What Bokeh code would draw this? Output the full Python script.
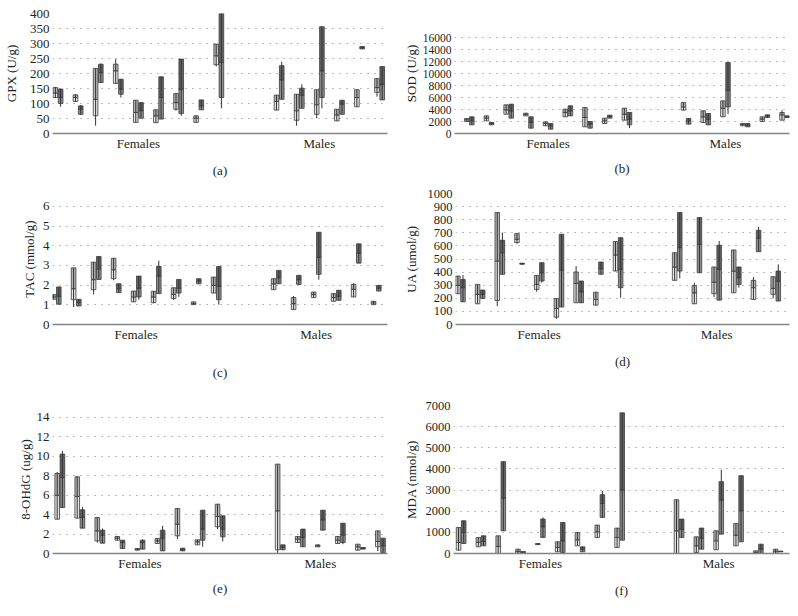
from bokeh.plotting import figure
from bokeh.layouts import column, row
from bokeh.models import Range1d, FixedTicker, ColumnDataSource
from bokeh.embed import file_html
from bokeh.resources import INLINE

# ---------------- data ----------------
categories = ["Females", "Males"]
category_slots = [4, 13]
slots = [0, 1, 2, 3, 4, 5, 6, 7, 8, 11, 12, 13, 14, 15, 16]

# each row: [min, q1, median, q3, max]; "left" = lighter box, "right" = darker box of each pair
gpx_left = [[118, 120, 135, 153, 155], [105, 107, 120, 129, 130], [26, 59, 114, 217, 217],
            [167, 167, 209, 231, 248], [37, 37, 70, 111, 111], [36, 36, 59, 79, 79],
            [76, 81, 103, 133, 133], [37, 37, 51, 59, 59], [224, 229, 259, 298, 298],
            [78, 78, 107, 128, 128], [26, 44, 76, 131, 131], [51, 64, 96, 146, 146],
            [42, 42, 62, 81, 81], [89, 89, 120, 146, 146], [123, 137, 153, 183, 183]]
gpx_right = [[89, 100, 120, 148, 148], [62, 64, 81, 92, 95], [170, 170, 203, 231, 233],
             [120, 131, 148, 181, 181], [51, 51, 76, 103, 103], [48, 48, 120, 189, 189],
             [59, 67, 148, 248, 248], [79, 79, 92, 112, 112], [84, 120, 237, 400, 400],
             [114, 114, 179, 226, 239], [84, 84, 128, 151, 164], [84, 120, 209, 356, 356],
             [64, 64, 98, 111, 111], [282, 282, 286, 290, 290], [112, 112, 164, 223, 223]]

sod_left = [[2000, 2000, 2280, 2500, 2500], [2110, 2110, 2560, 2940, 2940], [3220, 3220, 3940, 4780, 4780],
            [2940, 2940, 3170, 3390, 3390], [1280, 1280, 1670, 1940, 1940], [2780, 2780, 3500, 4060, 4060],
            [1110, 1110, 2670, 4330, 4330], [1670, 1670, 2110, 2560, 2560], [2220, 2220, 3220, 4220, 4220],
            [3890, 3890, 4440, 5170, 5170], [1830, 1830, 2780, 3780, 3780], [2780, 2780, 4220, 5440, 5440],
            [1280, 1280, 1500, 1670, 1670], [2000, 2000, 2390, 2780, 2780], [2220, 2220, 3110, 3500, 3890]]
sod_right = [[1440, 1440, 2110, 2780, 2780], [1440, 1440, 1670, 1830, 1830], [2560, 2560, 3780, 4890, 4890],
             [890, 890, 1830, 2780, 2780], [720, 720, 1280, 1670, 1670], [2940, 2940, 3780, 4610, 4610],
             [890, 890, 1560, 2000, 2000], [2560, 2560, 2830, 3060, 3060], [890, 1440, 2390, 3500, 3500],
             [1560, 1560, 2110, 2500, 2500], [1440, 1440, 2390, 3330, 3330], [3220, 4440, 7220, 11830, 11830],
             [1110, 1110, 1390, 1670, 1670], [2670, 2670, 2940, 3110, 3110], [2670, 2670, 2780, 2940, 2940]]

tac_left = [[1.28, 1.28, 1.40, 1.52, 1.52], [0.89, 1.26, 1.82, 2.88, 2.88], [1.53, 1.77, 2.28, 3.17, 3.17],
            [2.25, 2.33, 2.78, 3.37, 3.37], [1.15, 1.15, 1.40, 1.70, 1.70], [1.08, 1.11, 1.40, 1.69, 1.69],
            [1.25, 1.32, 1.53, 1.87, 1.87], [1.01, 1.01, 1.06, 1.15, 1.15], [1.60, 1.60, 1.99, 2.41, 2.41],
            [1.77, 1.77, 2.07, 2.33, 2.33], [0.76, 0.76, 1.06, 1.37, 1.45], [1.37, 1.37, 1.52, 1.65, 1.65],
            [1.18, 1.18, 1.37, 1.57, 1.57], [1.40, 1.40, 1.79, 2.04, 2.10], [1.01, 1.01, 1.10, 1.18, 1.18]]
tac_right = [[1.03, 1.03, 1.43, 1.91, 1.91], [0.94, 0.94, 1.11, 1.28, 1.28], [2.29, 2.29, 2.83, 3.46, 3.46],
             [1.62, 1.62, 1.82, 2.07, 2.07], [1.26, 1.40, 1.85, 2.46, 2.46], [1.57, 1.57, 2.46, 2.95, 3.25],
             [1.40, 1.60, 1.85, 2.29, 2.29], [2.07, 2.07, 2.21, 2.33, 2.33], [1.01, 1.26, 1.94, 2.95, 2.95],
             [2.07, 2.07, 2.38, 2.75, 2.75], [2.04, 2.04, 2.28, 2.50, 2.50], [2.28, 2.55, 3.42, 4.69, 4.69],
             [1.23, 1.23, 1.43, 1.74, 1.74], [3.12, 3.12, 3.63, 4.10, 4.10], [1.70, 1.70, 1.85, 1.99, 1.99]]

ua_left = [[235, 235, 298, 370, 370], [158, 158, 230, 306, 306], [140, 184, 485, 855, 855],
           [617, 625, 651, 694, 694], [250, 268, 306, 375, 375], [43, 56, 122, 199, 199],
           [166, 166, 314, 401, 446], [148, 148, 191, 247, 247], [408, 408, 531, 633, 633],
           [337, 337, 439, 548, 548], [158, 158, 242, 298, 319], [209, 235, 324, 439, 439],
           [242, 242, 408, 569, 569], [191, 191, 281, 337, 362], [199, 230, 276, 365, 365]]
ua_right = [[173, 173, 281, 344, 378], [199, 199, 230, 263, 263], [383, 383, 548, 643, 702],
            [460, 460, 464, 468, 468], [319, 332, 395, 472, 472], [133, 133, 416, 689, 689],
            [166, 166, 250, 332, 332], [383, 383, 426, 477, 477], [204, 281, 421, 663, 663],
            [352, 408, 587, 855, 855], [395, 395, 612, 816, 816], [186, 186, 421, 605, 638],
            [281, 306, 357, 439, 439], [556, 556, 658, 719, 745], [179, 179, 332, 408, 459]]

ohdg_left = [[3.53, 3.53, 6.0, 8.24, 8.4], [3.64, 3.64, 5.87, 7.89, 7.95], [1.13, 1.30, 2.33, 3.71, 3.71],
             [1.37, 1.37, 1.58, 1.75, 1.75], [0.34, 0.34, 0.45, 0.51, 0.51], [1.03, 1.03, 1.30, 1.54, 1.54],
             [1.48, 1.82, 3.02, 4.63, 4.63], [0.89, 0.89, 1.20, 1.41, 1.41], [2.50, 2.75, 3.81, 5.08, 5.08],
             [0.0, 0.38, 4.39, 9.20, 9.20], [1.13, 1.13, 1.48, 1.75, 1.75], [0.69, 0.69, 0.79, 0.89, 0.89],
             [1.03, 1.03, 1.37, 1.75, 1.75], [0.34, 0.34, 0.69, 0.96, 0.96], [0.24, 0.69, 1.24, 2.33, 2.33]]
ohdg_right = [[4.74, 4.74, 7.82, 10.23, 10.57], [2.61, 2.61, 3.71, 4.50, 4.80], [1.06, 1.06, 1.89, 2.40, 2.57],
              [0.51, 0.51, 1.13, 1.37, 1.37], [0.45, 0.45, 1.13, 1.37, 1.45], [0.27, 0.27, 1.58, 2.40, 2.85],
              [0.27, 0.27, 0.41, 0.55, 0.55], [0.69, 1.37, 2.51, 4.46, 4.46], [1.24, 1.72, 2.51, 3.88, 3.88],
              [0.38, 0.38, 0.62, 0.89, 0.89], [0.69, 0.69, 1.65, 2.51, 2.51], [2.40, 2.40, 3.47, 4.46, 4.46],
              [0.96, 1.13, 1.89, 3.12, 3.12], [0.45, 0.45, 0.55, 0.62, 0.62], [0.10, 0.10, 0.79, 1.58, 1.58]]

mda_left = [[158, 158, 521, 1232, 1232], [316, 316, 521, 758, 758], [0, 0, 332, 837, 837],
            [16, 16, 95, 205, 205], [420, 420, 442, 470, 470], [79, 79, 284, 553, 553],
            [363, 363, 648, 995, 995], [758, 758, 1027, 1343, 1343], [284, 284, 758, 1201, 1201],
            [0, 0, 1074, 2544, 2544], [47, 47, 363, 790, 790], [174, 174, 600, 1074, 1074],
            [363, 363, 869, 1422, 1422], [0, 0, 47, 126, 126], [16, 16, 110, 205, 205]]
mda_right = [[474, 474, 995, 1548, 1548], [363, 363, 569, 837, 837], [1074, 1074, 2623, 4345, 4345],
             [0, 0, 47, 95, 95], [758, 758, 1264, 1627, 1706], [47, 47, 600, 1469, 1469],
             [79, 79, 205, 316, 316], [1706, 1706, 2370, 2781, 2970], [632, 632, 3002, 6652, 6652],
             [758, 758, 1153, 1627, 1627], [205, 205, 727, 1201, 1201], [916, 916, 2528, 3397, 3966],
             [553, 553, 2022, 3681, 3681], [0, 0, 205, 442, 442], [79, 79, 95, 110, 110]]

# ---------------- style ----------------
FONT = "Liberation Serif"
TEXT = "#231f20"
LEFT_LO, LEFT_HI = "#e4e4e4", "#b4b4b4"
RIGHT_LO, RIGHT_HI = "#8e8e8e", "#626262"
EDGE = "#3c3c3c"
OFF = 0.13
BW = 0.23

# layout (common borders per row / column so that the frames line up)
ROW_H = [182, 202, 216]
ROW_TOP = [13, 11, 21]
ROW_BOT = [49, 60, 47]
COL_W = [400, 390]
COL_L = [52, 49]
COL_R = [13, 1]


def panel(left, right, ylabel, title, ymax, ytop, ystep, r, c, x0, ppu, label_standoff,
          tick_fs="12.5px", ylab_standoff=4):
    width, height = COL_W[c], ROW_H[r]
    fw = width - COL_L[c] - COL_R[c]
    p = figure(width=width, height=height, output_backend="svg", toolbar_location=None,
               x_range=Range1d(x0, x0 + fw / ppu), y_range=Range1d(0, ytop),
               min_border_left=COL_L[c], min_border_right=COL_R[c],
               min_border_top=ROW_TOP[r], min_border_bottom=ROW_BOT[r])
    p.outline_line_color = None
    p.background_fill_color = "white"
    p.border_fill_color = "white"

    for data, off, lo_c, hi_c in ((left, -OFF, LEFT_LO, LEFT_HI), (right, OFF, RIGHT_LO, RIGHT_HI)):
        src = ColumnDataSource(dict(
            x=[s + off for s in slots],
            mn=[v[0] for v in data], q1=[v[1] for v in data], md=[v[2] for v in data],
            q3=[v[3] for v in data], mx=[v[4] for v in data]))
        p.vbar(x="x", width=BW, bottom="q1", top="md", source=src,
               fill_color=lo_c, line_color=EDGE, line_width=0.8)
        p.vbar(x="x", width=BW, bottom="md", top="q3", source=src,
               fill_color=hi_c, line_color=EDGE, line_width=0.8)
        p.segment(x0="x", y0="mn", x1="x", y1="mx", source=src,
                  line_color="#333333", line_width=1)

    ticks = [ystep * i for i in range(int(round(ymax / ystep)) + 1)]
    p.yaxis.ticker = FixedTicker(ticks=ticks)
    p.yaxis.axis_line_color = None
    p.yaxis.major_tick_line_color = None
    p.yaxis.minor_tick_line_color = None
    p.yaxis.major_tick_out = 0
    p.yaxis.major_tick_in = 0
    p.yaxis.minor_tick_out = 0
    p.yaxis.major_label_standoff = 3
    p.yaxis.major_label_text_font = FONT
    p.yaxis.major_label_text_font_size = tick_fs
    p.yaxis.major_label_text_color = TEXT
    p.yaxis.axis_label = ylabel
    p.yaxis.axis_label_text_font = FONT
    p.yaxis.axis_label_text_font_size = "13px"
    p.yaxis.axis_label_text_font_style = "normal"
    p.yaxis.axis_label_text_color = TEXT
    p.yaxis.axis_label_standoff = ylab_standoff

    p.xaxis.ticker = FixedTicker(ticks=category_slots)
    p.xaxis.major_label_overrides = {s: cat for s, cat in zip(category_slots, categories)}
    p.xaxis.axis_line_color = "#858585"
    p.xaxis.axis_line_width = 1.6
    p.xaxis.major_tick_line_color = None
    p.xaxis.minor_tick_line_color = None
    p.xaxis.major_tick_out = 0
    p.xaxis.major_tick_in = 0
    p.xaxis.minor_tick_out = 0
    p.xaxis.major_label_standoff = 2
    p.xaxis.major_label_text_font = FONT
    p.xaxis.major_label_text_font_size = "13px"
    p.xaxis.major_label_text_color = TEXT
    p.xaxis.axis_label = title
    p.xaxis.axis_label_text_font = FONT
    p.xaxis.axis_label_text_font_size = "13px"
    p.xaxis.axis_label_text_font_style = "normal"
    p.xaxis.axis_label_text_color = TEXT
    p.xaxis.axis_label_standoff = label_standoff

    p.xgrid.visible = False
    p.ygrid.grid_line_color = "#7a7a7a"
    p.ygrid.grid_line_dash = "1 6"
    p.ygrid.grid_line_width = 1
    return p


pa = panel(gpx_left, gpx_right, "GPX (U/g)", "(a)", 400, 400, 50, 0, 0, -0.274, 20.1, 9,
           tick_fs="13px", ylab_standoff=8)
pb = panel(sod_left, sod_right, "SOD (U/g)", "(b)", 16000, 20000, 2000, 0, 1, -0.75, 20.0, 7,
           tick_fs="11.5px", ylab_standoff=1)
pc = panel(tac_left, tac_right, "TAC (mmol/g)", "(c)", 6, 6.661, 1, 1, 0, -0.185, 20.0, 20,
           tick_fs="13px", ylab_standoff=3)
pd_ = panel(ua_left, ua_right, "UA (umol/g)", "(d)", 1000, 1000, 100, 1, 1, -0.25, 20.06, 9,
            ylab_standoff=6)
pe = panel(ohdg_left, ohdg_right, "8-OHdG (ug/g)", "(e)", 14, 15.235, 2, 2, 0, -0.364, 20.04, 7,
           tick_fs="13px", ylab_standoff=1)
pf = panel(mda_left, mda_right, "MDA (nmol/g)", "(f)", 7000, 7000, 1000, 2, 1, -0.385, 20.05, 9,
           ylab_standoff=4)

layout = column(row(pa, pb, spacing=0), row(pc, pd_, spacing=0), row(pe, pf, spacing=0), spacing=0)

open("out.html", "w").write(file_html(layout, INLINE))
